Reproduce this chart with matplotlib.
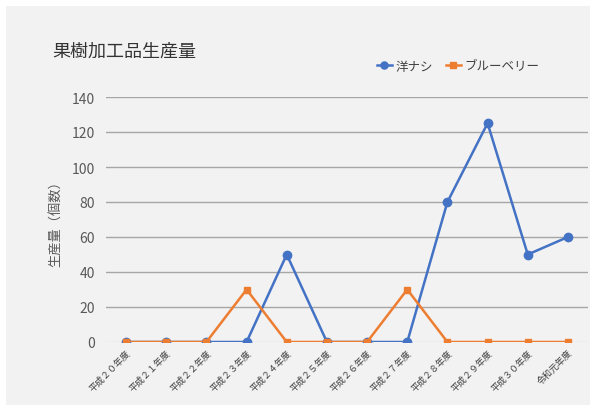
import matplotlib
matplotlib.use("Agg")
import matplotlib.pyplot as plt
from matplotlib.patches import Rectangle

plt.rcParams['font.family'] = ['Noto Sans CJK JP', 'DejaVu Sans']

categories = ["平成２０年度", "平成２１年度", "平成２２年度", "平成２３年度", "平成２４年度",
              "平成２５年度", "平成２６年度", "平成２７年度", "平成２８年度", "平成２９年度",
              "平成３０年度", "令和元年度"]
pear = [0, 0, 0, 0, 50, 0, 0, 0, 80, 125, 50, 60]
blueberry = [0, 0, 0, 30, 0, 0, 0, 30, 0, 0, 0, 0]
yticks = [0, 20, 40, 60, 80, 100, 120, 140]

W, H = 590, 406
fig = plt.figure(figsize=(W/100, H/100), dpi=100)
fig.patch.set_facecolor('white')
fig.patches.append(Rectangle((6/W, 0), 1 - 6/W, 1 - 7/H, transform=fig.transFigure,
                             facecolor='#f2f2f2', edgecolor='none', zorder=-10))

ax = fig.add_axes([106/W, 63/H, (588-106)/W, (343-98)/H])
ax.set_facecolor('none')
x = list(range(len(categories)))
ax.plot(x, pear, color='#4472C4', lw=1.8, marker='o', ms=6, label='洋ナシ', zorder=3)
ax.plot(x, blueberry, color='#ED7D31', lw=1.8, marker='s', ms=4.5, label='ブルーベリー', zorder=4)

ax.set_xlim(-0.5, len(categories) - 0.5)
ax.set_ylim(0, 140)
ax.set_yticks(yticks)
ax.set_yticklabels([str(v) for v in yticks], fontsize=10, color='#595959')
ax.set_xticks(x)
ax.set_xticklabels(categories, rotation=45, ha='right', rotation_mode='anchor',
                   fontsize=6.5, color='#404040')
for v in yticks[1:]:
    ax.axhline(v, color='#a6a6a6', lw=1.0, zorder=1)
ax.axhline(0, color='#d9d9d9', lw=1.0, zorder=1)
for s in ax.spines.values():
    s.set_visible(False)
ax.tick_params(length=0, pad=8)
ax.tick_params(axis='x', pad=4)

ax.set_ylabel('生産量（個数）', fontsize=9.5, color='#595959', labelpad=6)

fig.text(52/W, 1 - 52/H, '果樹加工品生産量', fontsize=13, color='#333333', va='center')
leg = fig.legend(loc='center', bbox_to_anchor=(458/W, 1 - 67/H), ncol=2, frameon=False,
                 fontsize=9, handlelength=1.2, handletextpad=0.3, columnspacing=1.0,
                 labelcolor='#404040', markerscale=0.85)
fig.savefig('out.png', dpi=100)
